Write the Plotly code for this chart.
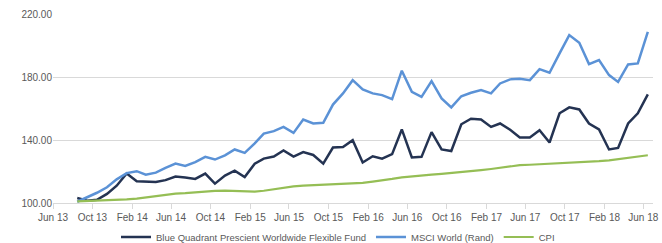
import plotly.graph_objects as go
import pandas as pd

months = pd.date_range("2013-08-01", "2018-06-01", freq="MS") + pd.Timedelta(days=14)

fund = [103.2, 101.5, 102.0, 105.8, 111.0, 118.7, 113.8, 113.4, 113.3, 114.5,
        116.8, 116.2, 115.3, 118.7, 112.3, 117.4, 120.5, 116.5, 125.0, 128.2,
        129.5, 133.3, 129.5, 132.3, 130.5, 125.0, 135.2, 135.6, 139.9, 125.7,
        129.7, 128.2, 131.0, 146.7, 128.9, 129.3, 145.0, 134.0, 133.0, 150.0,
        153.5, 153.0, 148.3, 150.5, 146.5, 141.6, 141.6, 146.2, 138.4, 157.0,
        160.7, 159.4, 150.5, 146.7, 134.0, 135.0, 150.5, 156.9, 169.0]

msci = [100.8, 103.5, 106.5, 110.0, 115.0, 119.0, 120.2, 118.0, 119.3, 122.3,
        125.0, 123.5, 126.0, 129.3, 127.6, 130.3, 134.0, 131.8, 137.8, 144.1,
        145.6, 148.3, 144.5, 153.0, 150.5, 150.9, 162.5, 169.6, 178.0, 172.1,
        169.6, 168.5, 166.0, 184.0, 170.6, 167.4, 177.4, 166.4, 160.7, 167.8,
        170.0, 171.7, 169.6, 175.9, 178.5, 178.9, 178.0, 185.0, 182.7, 195.0,
        206.6, 201.7, 188.2, 190.7, 181.2, 176.9, 188.0, 188.6, 208.7]

cpi = [101.0, 101.2, 101.5, 101.7, 101.9, 102.3, 102.8, 103.5, 104.5, 105.5,
       106.0, 106.3, 106.8, 107.3, 107.7, 107.8, 107.7, 107.3, 107.2, 107.8,
       108.8, 109.8, 110.5, 111.0, 111.3, 111.7, 112.2, 112.4, 112.5, 112.8,
       113.6, 114.3, 115.3, 116.3, 117.0, 117.4, 118.0, 118.5, 119.0, 119.6,
       120.3, 120.9, 121.6, 122.5, 123.5, 124.0, 124.3, 124.6, 124.9, 125.2,
       125.4, 125.8, 126.2, 126.6, 127.1, 127.8, 128.6, 129.4, 130.3]

tick_dates = pd.date_range("2013-06-01", "2018-06-01", freq="4MS")
tick_labels = [d.strftime("%b %y") for d in tick_dates]

series = [
    ("Blue Quadrant Prescient Worldwide Flexible Fund", fund, "#243352", 2.5),
    ("MSCI World (Rand)", msci, "#5B92D6", 2.5),
    ("CPI", cpi, "#95BE55", 2.2),
]

fig = go.Figure()
for name, vals, color, w in series:
    fig.add_trace(go.Scatter(x=months, y=vals, mode="lines", name=name,
                             line=dict(color=color, width=w)))

fig.update_layout(
    width=662, height=243,
    margin=dict(l=53, r=9, t=14, b=40, autoexpand=False),
    paper_bgcolor="white", plot_bgcolor="white",
    font=dict(family="Liberation Sans, Arial, sans-serif", size=10, color="#595959"),
    showlegend=True,
    legend=dict(orientation="h", x=0.475, xanchor="center", y=-0.18, yanchor="middle",
                font=dict(size=9.5, color="#595959"), itemwidth=30,
                tracegroupgap=0, bgcolor="rgba(0,0,0,0)"),
)
fig.update_xaxes(
    range=["2013-06-01", "2018-07-01"],
    tickvals=tick_dates, ticktext=tick_labels,
    showgrid=False, showline=True, linecolor="#d9d9d9", linewidth=1,
    ticks="outside", ticklen=5, tickcolor="#d9d9d9",
    zeroline=False, ticklabeloverflow="allow",
)
fig.update_yaxes(
    range=[100, 220], dtick=40, tick0=100, tickformat=".2f",
    showgrid=True, gridcolor="#d9d9d9", gridwidth=1,
    zeroline=False, showline=False, ticks="",
)

fig.write_html(
    "out.html",
    config={"displayModeBar": False},
    post_script="document.body.style.margin='0';document.body.style.overflow='hidden';",
)
